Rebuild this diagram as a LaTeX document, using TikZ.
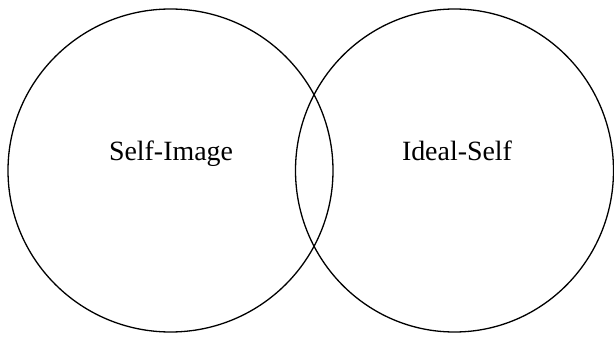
\documentclass[tikz,border=0pt]{standalone}
\usepackage{fontspec}
\setmainfont{Liberation Serif}
\usetikzlibrary{shapes.geometric}
\begin{document}
\begin{tikzpicture}[x=1pt,y=1pt,
  setring/.style={draw=black,line width=1.3pt,ellipse,inner sep=0pt},
  lbl/.style={font=\fontsize{27.9}{30}\selectfont,anchor=base,inner sep=0pt}]
\useasboundingbox (0,0) rectangle (614,338);
\node[setring,minimum width=325pt,minimum height=323pt] (selfimage) at (170.5,167.5) {};
\node[setring,minimum width=318pt,minimum height=323pt] (idealself) at (454.5,167.5) {};
\node[lbl] (t1) at (171,177) {Self-Image};
\node[lbl] (t2) at (457,177) {Ideal-Self};
\end{tikzpicture}
\end{document}
